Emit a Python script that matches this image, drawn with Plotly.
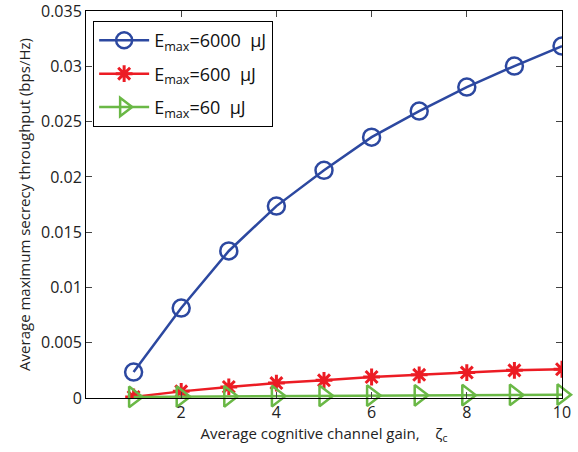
import plotly.graph_objects as go

x_vals = [1, 2, 3, 4, 5, 6, 7, 8, 9, 10]
e6000 = [0.00235, 0.00814, 0.0133, 0.01736, 0.0206, 0.0236, 0.02596, 0.02813, 0.03003, 0.03184]
e600 = [0.0001, 0.0006, 0.001, 0.00135, 0.0016, 0.0019, 0.0021, 0.0023, 0.0025, 0.0026]
e60 = [0.0001, 0.00012, 0.00015, 0.00017, 0.0002, 0.00022, 0.00024, 0.00026, 0.00028, 0.0003]
names = ["E<sub>max</sub>=6000  μJ", "E<sub>max</sub>=600  μJ", "E<sub>max</sub>=60  μJ"]
y_ticks = [0, 0.005, 0.01, 0.015, 0.02, 0.025, 0.03, 0.035]
y_labels = ["0", "0.005", "0.01", "0.015", "0.02", "0.025", "0.03", "0.035"]
x_ticks = [2, 4, 6, 8, 10]

blue = "rgb(44,72,160)"
red = "rgb(236,28,36)"
green = "rgb(106,184,70)"

fig = go.Figure()
fig.add_trace(go.Scatter(x=x_vals, y=e6000, name=names[0], mode="lines+markers", legendgroup="a",
                         line=dict(color=blue, width=2.5),
                         marker=dict(symbol="circle-open", size=17, color=blue, line=dict(width=2.5))))
fig.add_trace(go.Scatter(x=x_vals, y=e600, name=names[1], mode="lines+markers", legendgroup="b",
                         line=dict(color=red, width=2.5),
                         marker=dict(symbol="asterisk-open", size=14, color=red, line=dict(width=3, color=red))))
fig.add_trace(go.Scatter(x=x_vals, y=e60, name=names[2], mode="lines+markers", cliponaxis=False, legendgroup="c",
                         line=dict(color=green, width=2.5),
                         marker=dict(symbol="triangle-right-open", size=18, color=green, line=dict(width=2.5))))

font_family = "Open Sans, Lato, sans-serif"
fig.update_layout(
    width=578, height=452,
    margin=dict(l=86, r=16, t=11, b=54, autoexpand=False),
    plot_bgcolor="white", paper_bgcolor="white",
    font=dict(family=font_family, size=16, color="#222"),
    showlegend=True,
    legend=dict(x=0.015, y=0.974, xanchor="left", yanchor="top",
                bordercolor="black", borderwidth=1, bgcolor="white",
                font=dict(size=18, color="#111"), tracegroupgap=7, traceorder="grouped",
                itemwidth=50),
    xaxis=dict(range=[0, 10.0001], tickvals=x_ticks, ticks="inside", ticklen=6, automargin=False,
               showline=True, linecolor="black", linewidth=1, mirror="ticks",
               showgrid=False, zeroline=False, ticklabeloverflow="allow",
               title=dict(text="Average cognitive channel gain,    ζ<sub>c</sub>", font=dict(size=15), standoff=4),
               tickfont=dict(size=16)),
    yaxis=dict(range=[0, 0.03501], tickvals=y_ticks, ticktext=y_labels, ticks="inside", ticklen=6, automargin=False,
               showline=True, linecolor="black", linewidth=1, mirror="ticks",
               showgrid=False, zeroline=False, ticklabeloverflow="allow",
               title=dict(text="Average maximum secrecy throughput (bps/Hz)", font=dict(size=15), standoff=6),
               tickfont=dict(size=16)),
)
fig.write_html("out.html", config={"displayModeBar": False},
               post_script="document.body.style.margin='0';document.body.style.overflow='hidden';")
